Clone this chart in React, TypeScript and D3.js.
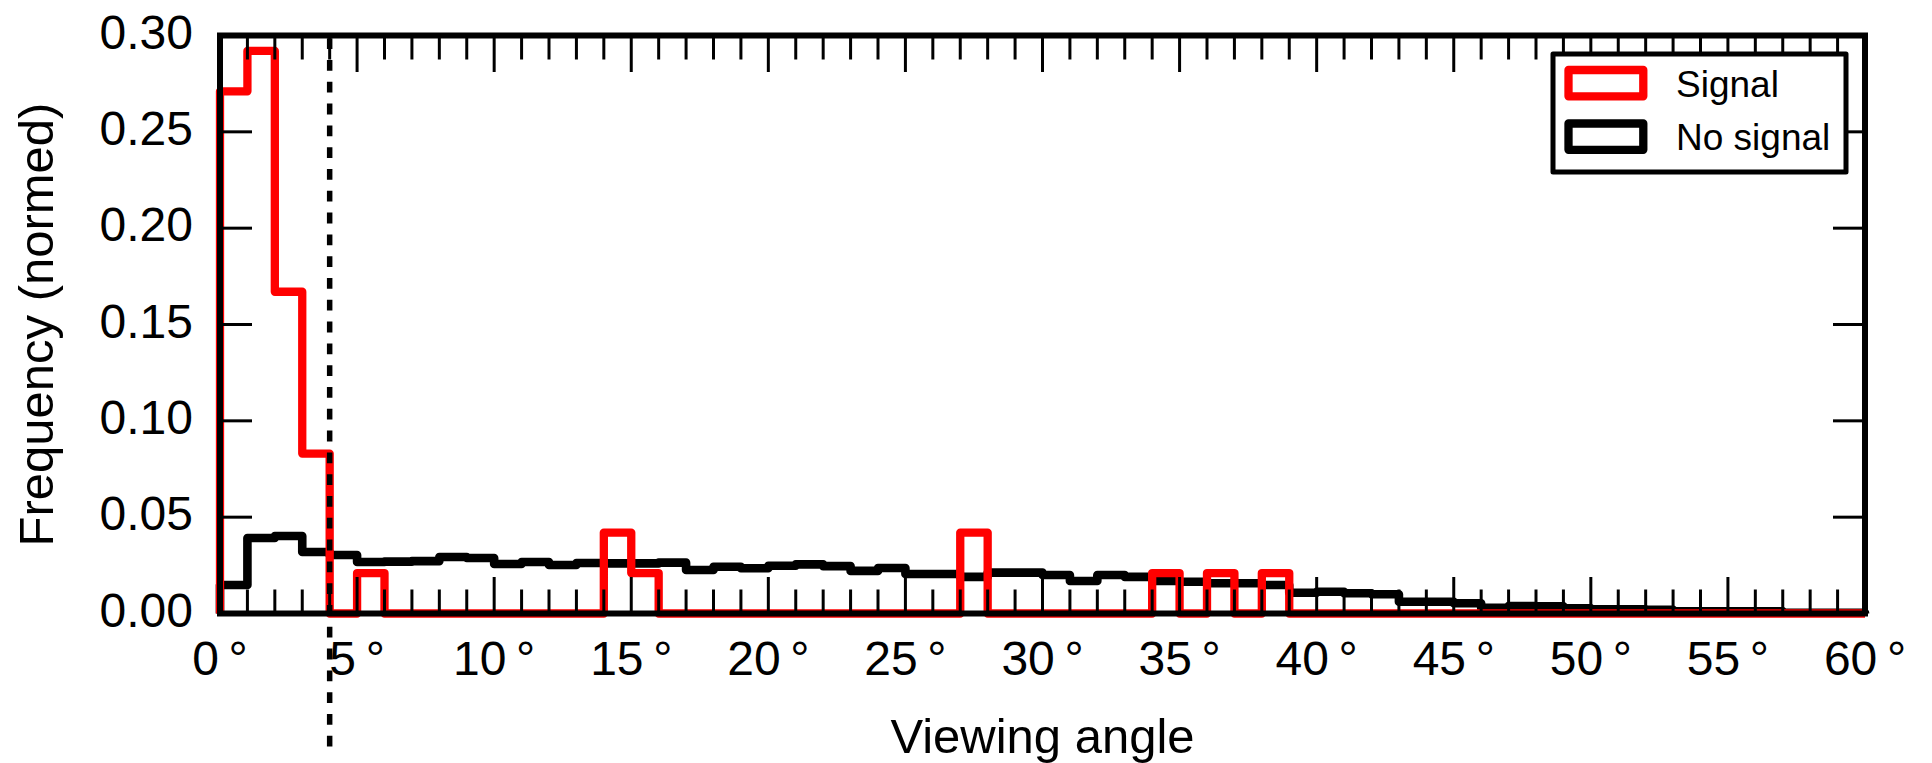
import React from "react";
import * as d3 from "d3";

// histogram bins are 1 degree wide, 0..60
const binEdges = d3.range(0, 61);

// "Signal" histogram (normed)
const signalFreq = [
  0.271, 0.292, 0.167, 0.083, 0, 0.021, 0, 0, 0, 0,
  0, 0, 0, 0, 0.042, 0.021, 0, 0, 0, 0,
  0, 0, 0, 0, 0, 0, 0, 0.042, 0, 0,
  0, 0, 0, 0, 0.021, 0, 0.021, 0, 0.021, 0,
  0, 0, 0, 0, 0, 0, 0, 0, 0, 0,
  0, 0, 0, 0, 0, 0, 0, 0, 0, 0,
];

// "No signal" histogram (normed)
const noSignalFreq = [
  0.0148, 0.0392, 0.0402, 0.0319, 0.0304, 0.0267, 0.0269, 0.0272, 0.0293, 0.0288,
  0.0257, 0.0267, 0.0252, 0.0262, 0.026, 0.026, 0.0264, 0.0226, 0.0243, 0.0235,
  0.0248, 0.0255, 0.0246, 0.0221, 0.0236, 0.0205, 0.0205, 0.019, 0.0212, 0.0212,
  0.02, 0.0169, 0.02, 0.019, 0.0169, 0.0165, 0.0157, 0.0157, 0.0148, 0.0108,
  0.0113, 0.0105, 0.01, 0.0061, 0.0061, 0.0053, 0.0029, 0.0039, 0.0038, 0.0027,
  0.0022, 0.0022, 0.0019, 0.0011, 0.0011, 0.0011, 0.0011, 0.0004, 0.0004, 0.0004,
];

// vertical threshold marker, runs below the axis
const threshold = { angle: 4, from: -0.0725, to: 0.3 };

const legendItems = [
  { label: "Signal", color: "#ff0000" },
  { label: "No signal", color: "#000000" },
];

const FONT = "'Liberation Sans', Arial, Helvetica, sans-serif";

const W = 1932;
const H = 763;
const plot = { left: 220, right: 1865, top: 35.5, bottom: 613.5 };

const App = () => {
  const x = d3.scaleLinear().domain([0, 60]).range([plot.left, plot.right]);
  const y = d3.scaleLinear().domain([0, 0.3]).range([plot.bottom, plot.top]);

  const step = d3
    .line<[number, number]>()
    .x((d) => x(d[0]))
    .y((d) => y(d[1]))
    .curve(d3.curveStepAfter);

  const histPath = (vals: number[]) => {
    const pts: [number, number][] = [[binEdges[0], 0]];
    vals.forEach((v, i) => pts.push([binEdges[i], v]));
    pts.push([binEdges[binEdges.length - 1], 0]);
    return step(pts) as string;
  };

  const xMajor = x.ticks(12);
  const xMinor = x.ticks(60).filter((t) => t % 5 !== 0);
  const yMajor = y.ticks(6);
  const fmtY = d3.format(".2f");

  const xMajLen = 36.5;
  const xMinLen = 24;
  const yMajLen = 32;

  // legend geometry
  const lg = { x0: 1553, x1: 1846, y0: 54, y1: 172 };
  const handle = { x: 1568.5, w: 74.8, h: 26.3 };
  const rowTop = [70, 123.5];

  return (
    <svg
      width={W}
      height={H}
      style={{ position: "absolute", left: 0, top: 0, background: "#fff" }}
      fontFamily={FONT}
    >
      <rect x={0} y={0} width={W} height={H} fill="#fff" />

      {/* histograms */}
      <path
        d={histPath(noSignalFreq)}
        fill="none"
        stroke="#000"
        strokeWidth={8.6}
        strokeLinejoin="round"
      />
      <path
        d={histPath(signalFreq)}
        fill="none"
        stroke="#ff0000"
        strokeWidth={8.3}
        strokeLinejoin="round"
      />

      {/* dashed threshold */}
      <line
        x1={x(threshold.angle)}
        x2={x(threshold.angle)}
        y1={y(threshold.to)}
        y2={y(threshold.from)}
        stroke="#000"
        strokeWidth={5.5}
        strokeDasharray="10.8 11"
        strokeDashoffset={-2.7}
      />

      {/* ticks, pointing inward on all four sides */}
      <g stroke="#000" strokeWidth={3}>
        {xMinor.map((t) => (
          <g key={"xm" + t}>
            <line x1={x(t)} x2={x(t)} y1={plot.bottom} y2={plot.bottom - xMinLen} />
            <line x1={x(t)} x2={x(t)} y1={plot.top} y2={plot.top + xMinLen} />
          </g>
        ))}
        {xMajor.map((t) => (
          <g key={"xM" + t}>
            <line x1={x(t)} x2={x(t)} y1={plot.bottom} y2={plot.bottom - xMajLen} />
            <line x1={x(t)} x2={x(t)} y1={plot.top} y2={plot.top + xMajLen} />
          </g>
        ))}
        {yMajor.map((t) => (
          <g key={"yM" + t}>
            <line x1={plot.left} x2={plot.left + yMajLen} y1={y(t)} y2={y(t)} />
            <line x1={plot.right} x2={plot.right - yMajLen} y1={y(t)} y2={y(t)} />
          </g>
        ))}
      </g>

      {/* frame */}
      <rect
        x={plot.left}
        y={plot.top}
        width={plot.right - plot.left}
        height={plot.bottom - plot.top}
        fill="none"
        stroke="#000"
        strokeWidth={6}
      />

      {/* tick labels */}
      <g fontSize={48} fill="#000">
        {xMajor.map((t) => (
          <text key={"xl" + t} x={x(t)} y={675} textAnchor="middle">
            {`${t}\u2009°`}
          </text>
        ))}
        {yMajor.map((t) => (
          <text key={"yl" + t} x={193} y={y(t) + 13} textAnchor="end">
            {fmtY(t)}
          </text>
        ))}
      </g>

      {/* axis labels */}
      <text
        x={(plot.left + plot.right) / 2}
        y={753}
        fontSize={49}
        textAnchor="middle"
      >
        Viewing angle
      </text>
      <text
        transform={`translate(53,${(plot.top + plot.bottom) / 2}) rotate(-90)`}
        fontSize={49}
        textAnchor="middle"
      >
        Frequency (normed)
      </text>

      {/* legend */}
      <rect
        x={lg.x0}
        y={lg.y0}
        width={lg.x1 - lg.x0}
        height={lg.y1 - lg.y0}
        fill="#fff"
        stroke="#000"
        strokeWidth={5}
        strokeLinejoin="round"
      />
      {legendItems.map((item, i) => (
        <g key={item.label}>
          <rect
            x={handle.x}
            y={rowTop[i]}
            width={handle.w}
            height={handle.h}
            fill="none"
            stroke={item.color}
            strokeWidth={8.3}
            strokeLinejoin="round"
          />
          <text x={1676} y={rowTop[i] + 26.5} fontSize={37}>
            {item.label}
          </text>
        </g>
      ))}
    </svg>
  );
};

export default App;
